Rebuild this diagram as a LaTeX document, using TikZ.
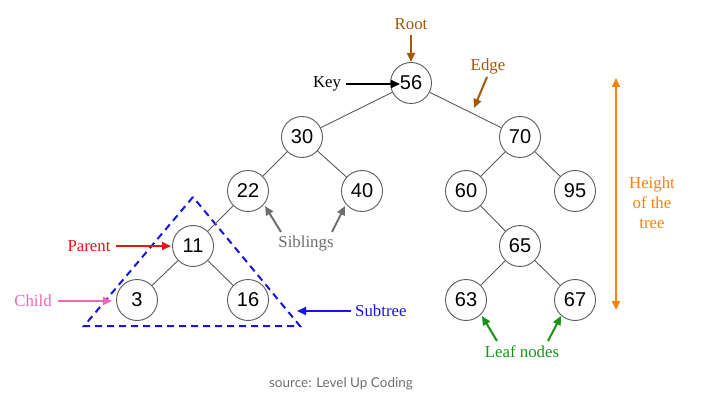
\documentclass[tikz,border=0pt]{standalone}
\usepackage{fontspec}
\setmainfont{Liberation Serif}
\newfontfamily\numfont{Liberation Sans}
\newfontfamily\srcfont{Lato}
\usetikzlibrary{arrows.meta}
\definecolor{brownish}{RGB}{163,88,10}
\definecolor{parentred}{RGB}{235,20,20}
\definecolor{childpink}{RGB}{245,100,180}
\definecolor{subblue}{RGB}{20,20,230}
\definecolor{sibgray}{RGB}{110,110,110}
\definecolor{leafgreen}{RGB}{20,150,20}
\definecolor{heightorange}{RGB}{250,130,10}
\definecolor{edgegray}{RGB}{90,90,90}
\tikzset{
  circ/.style={circle,draw=edgegray,line width=0.9pt,fill=white,minimum size=41pt,inner sep=0pt,font=\numfont\fontsize{20}{20}\selectfont},
  lbl/.style={font=\fontsize{16.8}{18}\selectfont,inner sep=2pt},
  arr/.style={line width=2pt,-{Triangle[length=9pt,width=8pt]}},
  tedge/.style={draw=edgegray,line width=0.9pt}
}
\begin{document}
\begin{tikzpicture}[x=1pt,y=-1pt]
\useasboundingbox (0,0) rectangle (717,414);
% dashed subtree triangle
\coordinate (ta) at (193,197);
\coordinate (tl) at (84,326);
\coordinate (tr) at (300,326);
\draw[subblue,line width=2pt,dash pattern=on 7pt off 5pt] (ta) -- (tl) -- (tr) -- cycle;
% tree nodes
\node[circ] (n56) at (411,83) {56};
\node[circ] (n30) at (302,137) {30};
\node[circ] (n70) at (520,137) {70};
\node[circ] (n22) at (248,191) {22};
\node[circ] (n40) at (362,191) {40};
\node[circ] (n60) at (466,191) {60};
\node[circ] (n95) at (575,191) {95};
\node[circ] (n11) at (193,246) {11};
\node[circ] (n65) at (520,246) {65};
\node[circ] (n3) at (137,300) {3};
\node[circ] (n16) at (248,300) {16};
\node[circ] (n63) at (466,300) {63};
\node[circ] (n67) at (575,300) {67};
% edges
\foreach \a/\b in {n56/n30,n56/n70,n30/n22,n30/n40,n70/n60,n70/n95,n22/n11,n11/n3,n11/n16,n60/n65,n65/n63,n65/n67}
  \draw[tedge] (\a) -- (\b);
% labels
\node[lbl,text=brownish] (root) at (411,24) {Root};
\coordinate (rootp) at (411,62);
\draw[arr,brownish] (411,35) -- (rootp);
\node[lbl,text=brownish] (edge) at (488,66) {Edge};
\coordinate (edgep) at (474,108);
\draw[arr,brownish] (487,77) -- (edgep);
\node[lbl,text=black] (key) at (327,84) {Key};
\coordinate (keyp) at (400,84);
\draw[arr,black] (346,84) -- (keyp);
\node[lbl,text=parentred] (parent) at (89,246) {Parent};
\coordinate (parentp) at (171,246);
\draw[arr,parentred] (116,246) -- (parentp);
\node[lbl,text=childpink] (child) at (33,301) {Child};
\coordinate (childp) at (112,301);
\draw[arr,childpink] (58,301) -- (childp);
\node[lbl,text=subblue,anchor=west] (sub) at (353,311) {Subtree};
\coordinate (subp) at (297,311);
\draw[arr,subblue] (351,311) -- (subp);
\node[lbl,text=sibgray] (sib) at (306,243) {Siblings};
\coordinate (sibl) at (265,206);
\coordinate (sibr) at (345,206);
\draw[arr,sibgray] (281,232) -- (sibl);
\draw[arr,sibgray] (332,232) -- (sibr);
\node[lbl,text=leafgreen] (leaf) at (522,352) {Leaf nodes};
\coordinate (leafl) at (482,316);
\coordinate (leafr) at (561,316);
\draw[arr,leafgreen] (497,341) -- (leafl);
\draw[arr,leafgreen] (548,341) -- (leafr);
% height
\coordinate (htop) at (616,78);
\coordinate (hbot) at (616,310);
\draw[line width=2pt,heightorange,{Triangle[length=9pt,width=8pt]}-{Triangle[length=9pt,width=8pt]}] (htop) -- (hbot);
\node[lbl,text=heightorange,align=center,font=\fontsize{16.8}{20}\selectfont] (height) at (652,203) {Height\\of the\\tree};
% source
\node[text=sibgray,font=\srcfont\fontsize{13.5}{14}\selectfont] (src) at (341,384) {source: Level Up Coding};
\end{tikzpicture}
\end{document}
